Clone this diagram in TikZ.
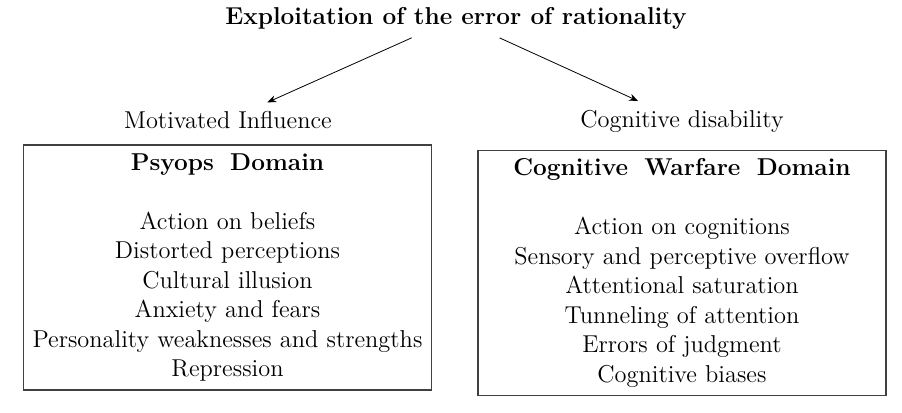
\documentclass[tikz,border=0pt]{standalone}
\usepackage{tikz}
\usetikzlibrary{arrows.meta,positioning}

\begin{document}
\begin{tikzpicture}[
    x=0.5pt, y=-0.5pt,
    every node/.style={font=\fontsize{12.2}{14.75}\selectfont},
    head/.style={font=\fontsize{12.2}{14.75}\selectfont\bfseries, inner sep=3pt},
    lbl/.style={inner sep=3pt},
    domainbox/.style={draw=black!75, line width=0.6pt, align=center, text width=196pt, inner sep=4pt, minimum height=122.5pt},
    arr/.style={-{Stealth[length=4.5pt,width=3.5pt]}, thin}
]
\useasboundingbox (0,0) rectangle (902,413);

\node[head] (title) at (456,18) {Exploitation of the error of rationality};
\node[lbl] (motiv) at (228,120) {Motivated Influence};
\node[lbl] (disab) at (682,121) {Cognitive disability};

\node[domainbox] (psyops) at (227.5,267.5) {\textbf{Psyops\ \ Domain}\\[14.75pt]
  Action on beliefs\\ Distorted perceptions\\ Cultural illusion\\
  Anxiety and fears\\ Personality weaknesses and strengths\\ Repression};
\node[domainbox] (cogwar) at (682,273) {\textbf{Cognitive\ \ Warfare\ \ Domain}\\[14.75pt]
  Action on cognitions\\ Sensory and perceptive overflow\\ Attentional saturation\\
  Tunneling of attention\\ Errors of judgment\\ Cognitive biases};

\draw[arr, shorten <=3pt, shorten >=3pt] (title) -- (motiv);
\draw[arr, shorten <=3pt, shorten >=3pt] (title) -- (disab);
\end{tikzpicture}
\end{document}
